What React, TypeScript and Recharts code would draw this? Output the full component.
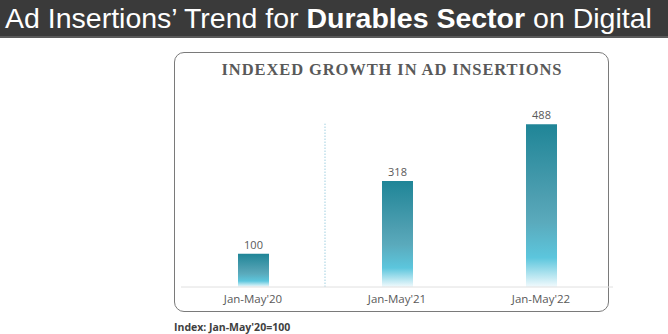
import { BarChart, Bar, XAxis, YAxis, LabelList, ReferenceLine } from 'recharts';

// Ad insertions index (Jan-May'20 = 100)
const periods = ["Jan-May'20", "Jan-May'21", "Jan-May'22"];
const indexValues = [100, 318, 488];
const yDomain = [0, 600];
const dividerTop = 490;

const chartData = periods.map((period, i) => ({ period, value: indexValues[i] }));

const TEXT_GRAY = '#595959';

export default function App() {
  return (
    <div
      style={{
        position: 'absolute',
        left: 0,
        top: 0,
        width: 668,
        height: 334,
        background: '#ffffff',
        overflow: 'hidden',
        fontFamily: 'Arial, "Liberation Sans", sans-serif',
      }}
    >
      {/* Slide header */}
      <div
        style={{
          position: 'absolute',
          left: 0,
          top: 0,
          width: 668,
          height: 36,
          background: '#3a3a3a',
          borderBottom: '2px solid #5a5a5a',
          color: '#ffffff',
          fontSize: 28.5,
          lineHeight: '37px',
          whiteSpace: 'nowrap',
          paddingLeft: 5,
        }}
      >
        Ad Insertions’ Trend for <b>Durables Sector</b> on Digital
      </div>

      {/* Chart panel frame */}
      <div
        style={{
          position: 'absolute',
          left: 174,
          top: 52,
          width: 435,
          height: 260,
          border: '1.5px solid #7a7a7a',
          borderRadius: 10,
          boxSizing: 'border-box',
        }}
      />
      <div
        style={{
          position: 'absolute',
          left: 174,
          top: 60,
          width: 436,
          textAlign: 'center',
          fontFamily: '"Liberation Serif", "DejaVu Serif", serif',
          fontWeight: 'bold',
          fontSize: 16.5,
          letterSpacing: 0.9,
          color: TEXT_GRAY,
        }}
      >
        INDEXED GROWTH IN AD INSERTIONS
      </div>

      <div style={{ position: 'absolute', left: 0, top: 0 }}>
        <BarChart
          width={668}
          height={334}
          data={chartData}
          margin={{ top: 87, right: 55, left: 181, bottom: 17 }}
        >
          <defs>
            <linearGradient id="barFill" x1="0" y1="0" x2="0" y2="1">
              <stop offset="0%" stopColor="#1f8597" />
              <stop offset="45%" stopColor="#4e9fb1" />
              <stop offset="60%" stopColor="#5aaabc" />
              <stop offset="82%" stopColor="#5cc6dd" />
              <stop offset="100%" stopColor="#f2fafd" />
            </linearGradient>
          </defs>
          <XAxis
            dataKey="period"
            axisLine={{ stroke: '#e0e0e0', strokeWidth: 1 }}
            tickLine={false}
            height={30}
            tick={{ fill: TEXT_GRAY, fontSize: 11.5, fontFamily: '"Open Sans", sans-serif' }}
          />
          <YAxis hide domain={yDomain} />
          <ReferenceLine
            segment={[
              { x: periods[0], y: 0 },
              { x: periods[0], y: dividerTop },
            ]}
            position="end"
            stroke="#9fcfe0"
            strokeDasharray="1.5 1.5"
            strokeWidth={1}
          />
          <Bar dataKey="value" barSize={31} fill="url(#barFill)" isAnimationActive={false}>
            <LabelList
              dataKey="value"
              position="top"
              offset={5}
              fill={TEXT_GRAY}
              fontSize={11}
              fontFamily='"Open Sans", sans-serif'
            />
          </Bar>
        </BarChart>
      </div>

      {/* Footnote */}
      <div
        style={{
          position: 'absolute',
          left: 174,
          top: 320,
          fontFamily: '"Open Sans", sans-serif',
          fontWeight: 'bold',
          fontSize: 10.5,
          color: '#404040',
          whiteSpace: 'nowrap',
        }}
      >
        Index: Jan-May'20=100
      </div>
    </div>
  );
}
